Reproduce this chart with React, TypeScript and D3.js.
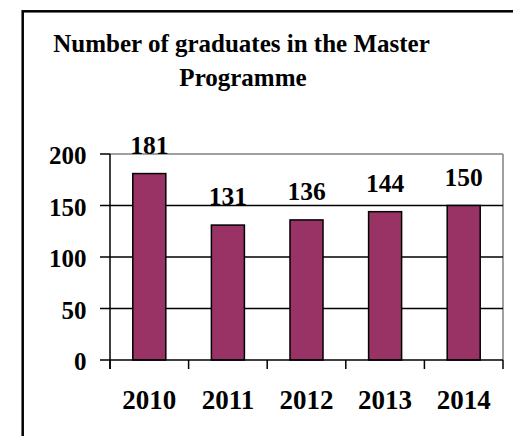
import React from "react";
import * as d3 from "d3";

const years = ["2010", "2011", "2012", "2013", "2014"];
const graduates = [181, 131, 136, 144, 150];
const yTicks = [0, 50, 100, 150, 200];
const titleLines = ["Number of graduates in the Master", "Programme"];

const W = 513;
const H = 436;
const FONT = "Liberation Serif, Times New Roman, Times, serif";

export default function App() {
  const plot = { left: 110, right: 503, top: 154, bottom: 360 };
  const x = d3
    .scaleBand<string>()
    .domain(years)
    .range([plot.left, plot.right])
    .paddingInner(0.58)
    .paddingOuter(0.29);
  const y = d3.scaleLinear().domain([0, 200]).range([plot.bottom, plot.top]);
  const step = x.step();
  const boundaries = d3.range(years.length + 1).map((i) => plot.left + i * step);
  const ts = { fontFamily: FONT, fontWeight: 700 } as React.CSSProperties;

  return (
    <svg
      width={W}
      height={H}
      style={{ position: "fixed", left: 0, top: 0, background: "#fff" }}
    >
      <rect x={0} y={0} width={W} height={H} fill="#fff" />
      {/* outer frame */}
      <rect x={22.7} y={11.3} width={W + 20} height={H + 20} fill="none" stroke="#000" strokeWidth={2.5} />

      {/* title */}
      <text x={241.5} y={51.7} textAnchor="middle" fontSize={25} fill="#000" style={ts}>
        {titleLines[0]}
      </text>
      <text x={243} y={86} textAnchor="middle" fontSize={25} fill="#000" style={ts}>
        {titleLines[1]}
      </text>

      {/* plot border (top & right gray) */}
      <line x1={plot.left} x2={plot.right} y1={plot.top} y2={plot.top} stroke="#808080" strokeWidth={1.5} />
      <line x1={plot.right} x2={plot.right} y1={plot.top} y2={plot.bottom} stroke="#808080" strokeWidth={1.5} />

      {/* gridlines */}
      {yTicks
        .filter((t) => t > 0 && t < 200)
        .map((t) => (
          <line key={t} x1={plot.left} x2={plot.right} y1={y(t)} y2={y(t)} stroke="#000" strokeWidth={1.5} />
        ))}

      {/* bars */}
      {years.map((yr, i) => (
        <rect
          key={yr}
          x={x(yr)}
          y={y(graduates[i])}
          width={x.bandwidth()}
          height={plot.bottom - y(graduates[i])}
          fill="#993366"
          stroke="#000"
          strokeWidth={1.5}
        />
      ))}

      {/* y axis */}
      <line x1={plot.left} x2={plot.left} y1={plot.top} y2={plot.bottom + 9} stroke="#000" strokeWidth={1.5} />
      {yTicks.map((t) => (
        <g key={t}>
          <line x1={plot.left - 10} x2={plot.left} y1={y(t)} y2={y(t)} stroke="#000" strokeWidth={1.5} />
          <text x={86.5} y={y(t) + 10} textAnchor="end" fontSize={25} fill="#000" style={ts}>
            {t}
          </text>
        </g>
      ))}

      {/* x axis */}
      <line x1={plot.left} x2={plot.right} y1={plot.bottom} y2={plot.bottom} stroke="#000" strokeWidth={1.5} />
      {boundaries.map((b, i) => (
        <line key={i} x1={b} x2={b} y1={plot.bottom} y2={plot.bottom + 9} stroke="#000" strokeWidth={1.5} />
      ))}
      {years.map((yr) => (
        <text key={yr} x={(x(yr) as number) + x.bandwidth() / 2} y={409.3} textAnchor="middle" fontSize={27} fill="#000" style={ts}>
          {yr}
        </text>
      ))}

      {/* value labels */}
      {years.map((yr, i) => (
        <text
          key={yr}
          x={(x(yr) as number) + x.bandwidth() / 2}
          y={y(graduates[i]) - 20}
          textAnchor="middle"
          fontSize={25.5}
          fill="#000"
          style={ts}
        >
          {graduates[i]}
        </text>
      ))}
    </svg>
  );
}
